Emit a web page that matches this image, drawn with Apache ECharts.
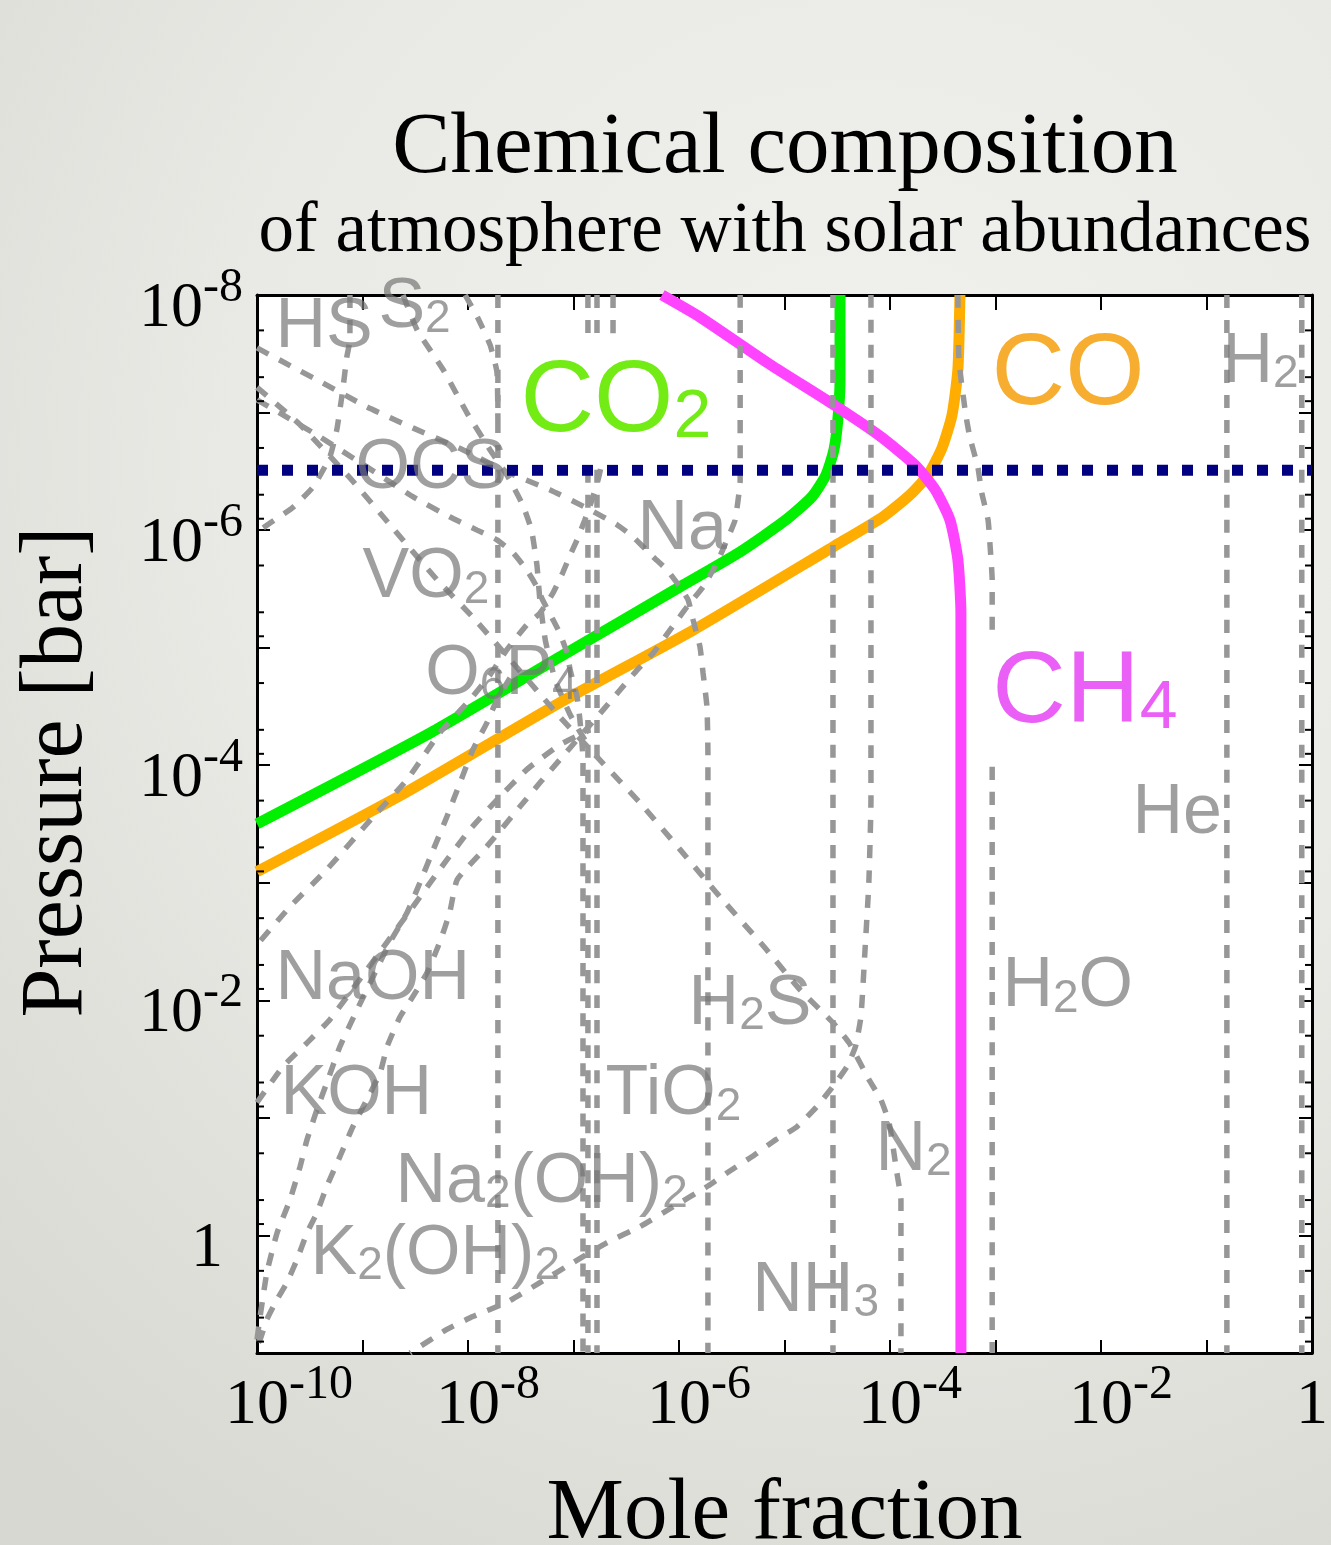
<!DOCTYPE html>
<html>
<head>
<meta charset="utf-8">
<script src="https://cdn.jsdelivr.net/npm/echarts/dist/echarts.min.js"></script>
<style>
html,body{margin:0;padding:0;}
#chart{width:1331px;height:1545px;background:radial-gradient(ellipse 95% 85% at 65% 30%, #f1f1ee 0%, #e9e9e5 50%, #d8d8d2 100%);}
</style>
</head>
<body>
<div id="chart"></div>
<script>
// ---------- tick labels ----------
const xLabelValues = [1e-10, 1e-8, 1e-6, 1e-4, 1e-2, 1];
const xLabelBase   = ['10', '10', '10', '10', '10', '1'];
const xLabelExp    = ['-10', '-8', '-6', '-4', '-2', ''];
const yLabelValues = [1e-8, 1e-6, 1e-4, 1e-2, 1];
const yLabelBase   = ['10', '10', '10', '10', '1'];
const yLabelExp    = ['-8', '-6', '-4', '-2', ''];
const yMinorTicks  = [2e-8,5e-8,8e-8, 2e-7,5e-7,8e-7, 2e-6,5e-6,8e-6, 2e-5,5e-5,8e-5,
                      2e-4,5e-4,8e-4, 2e-3,5e-3,8e-3, 2e-2,5e-2,8e-2, 2e-1,5e-1,8e-1, 2,5,8];

// ---------- highlighted species (mole fraction, pressure) ----------
const co2Line = [[1e-10,3.15e-4],[4.4e-9,5.3e-5],[7.4e-8,1.20e-5],[1.02e-6,3.04e-6],[3.8e-6,1.53e-6],
  [1.03e-5,8.2e-7],[1.82e-5,5.2e-7],[2.47e-5,3.4e-7],[2.94e-5,2.08e-7],[3.2e-5,1.16e-7],[3.36e-5,5.3e-8],[3.36e-5,1e-8]];
const coLine = [[1e-10,8.05e-4],[2.26e-9,1.82e-4],[7.4e-8,2.94e-5],[1.36e-6,7.1e-6],[2.88e-5,1.39e-6],
  [8.6e-5,7.7e-7],[1.55e-4,5.0e-7],[2.29e-4,3.4e-7],[3.11e-4,2.0e-7],[3.87e-4,1.05e-7],[4.4e-4,4.3e-8],[4.6e-4,1e-8]];
const ch4Line = [[6.9e-7,1e-8],[1.58e-6,1.54e-8],[7.3e-6,3.9e-8],[2.88e-5,8.5e-8],[8.0e-5,1.58e-7],
  [1.73e-4,2.8e-7],[2.67e-4,4.5e-7],[3.7e-4,8.2e-7],[4.4e-4,1.79e-6],[4.7e-4,5.1e-6],[4.7e-4,2.8e-5],[4.7e-4,10]];
const tropopausePressure = 3.1e-7;

// ---------- other species (dashed grey) ----------
const dashV1 = [[1.92e-8,1e-8],[1.92e-8,10]];
const dashTop = [[9.4e-9,1e-8],[1.24e-8,1.57e-8],[1.62e-8,2.66e-8],[1.88e-8,4.5e-8],[1.92e-8,1.16e-7]];
const dashTiO2a = [[1.37e-7,1e-8],[1.37e-7,10]];
const dashTiO2b = [[1.67e-7,1e-8],[1.67e-7,10]];
const dashOCS = [[1e-10,7.8e-8],[1.65e-10,1.01e-7],[3.95e-10,1.61e-7],[1.10e-9,2.90e-7],[3.0e-9,5.2e-7],
  [6.7e-9,7.7e-7],[1.22e-8,1.0e-6],[1.88e-8,1.21e-6],[2.67e-8,1.56e-6],[3.6e-8,2.18e-6],[4.5e-8,3.04e-6],
  [5.1e-8,3.93e-6],[6.4e-8,5.8e-6],[7.4e-8,7.5e-6],[8.7e-8,1.11e-5],[9.3e-8,1.55e-5],[1.08e-7,2.62e-5],
  [1.15e-7,4.1e-5],[1.23e-7,9.0e-5],[1.23e-7,10]];
const dashNaOH = [[2.37e-7,1e-8],[2.37e-7,2.41e-8],[2.17e-7,1.16e-7],[1.91e-7,2.39e-7],[1.71e-7,3.74e-7],
  [1.50e-7,5.5e-7],[1.28e-7,8.2e-7],[1.08e-7,1.21e-6],[9.3e-8,1.63e-6],[7.9e-8,2.31e-6],[6.4e-8,3.42e-6],
  [4.8e-8,5.1e-6],[3.6e-8,6.4e-6],[2.34e-8,1.04e-5],[1.62e-8,1.70e-5],[1.04e-8,2.78e-5],[5.4e-9,5.3e-5],
  [2.64e-9,1.33e-4],[1.26e-9,2.75e-4],[4.6e-10,7.7e-4],[2.05e-10,1.60e-3],[1e-10,3.37e-3]];
const dashNa = [[1e-10,2.82e-8],[1.76e-10,3.7e-8],[4.2e-10,5.6e-8],[1.10e-9,8.95e-8],[3.0e-9,1.35e-7],
  [9.0e-9,2.08e-7],[2.34e-8,3.2e-7],[6.0e-8,4.55e-7],[1.43e-7,6.7e-7],[2.58e-7,9.0e-7],[3.66e-7,1.14e-6],
  [5.7e-7,1.69e-6],[7.7e-7,2.18e-6],[1.02e-6,3.04e-6],[1.22e-6,3.93e-6],[1.36e-6,5.8e-6],[1.58e-6,9.8e-6],
  [1.69e-6,1.64e-5],[1.84e-6,3.18e-5],[1.88e-6,7.9e-5],[1.88e-6,10]];
const dashVO2 = [[3.8e-6,1e-8],[3.8e-6,3.74e-7],[3.4e-6,8.2e-7],[2.85e-6,1.21e-6],[2.29e-6,1.90e-6],
  [1.69e-6,3.04e-6],[1.19e-6,4.5e-6],[8.2e-7,7.1e-6],[5.7e-7,1.11e-5],[4.0e-7,1.55e-5],[2.76e-7,2.29e-5],
  [1.91e-7,3.38e-5],[1.15e-7,5.7e-5],[7.4e-8,9.0e-5],[4.8e-8,1.41e-4],[3.1e-8,2.26e-4],[1.51e-8,4.9e-4],
  [7.9e-9,9.4e-4],[6.7e-9,1.80e-3],[5.4e-9,3.2e-3],[4.1e-9,5.8e-3],[3.0e-9,9.3e-3],[2.27e-9,1.38e-2],
  [1.71e-9,2.48e-2],[1.47e-9,4.13e-2],[1.10e-9,7.0e-2],[8.1e-10,0.119],[6.1e-10,0.214],[4.6e-10,0.38],
  [3.7e-10,0.64],[2.98e-10,0.95],[2.39e-10,1.61],[1.92e-10,2.52],[1.55e-10,3.5],[1.24e-10,5.2],
  [1.07e-10,7.7],[1e-10,8.5]];
const dashV2 = [[2.88e-5,1e-8],[2.88e-5,10]];
const dashNH3 = [[6.6e-5,1e-8],[6.6e-5,1.97e-4],[6.3e-5,1.0e-3],[5.8e-5,3.7e-3],[5.3e-5,1.38e-2],
  [4.7e-5,2.48e-2],[3.9e-5,3.67e-2],[2.88e-5,5.4e-2],[2.03e-5,8.0e-2],[1.31e-5,0.119],[8.3e-6,0.153],
  [4.9e-6,0.214],[2.91e-6,0.29],[1.88e-6,0.38],[8.8e-7,0.57],[4.27e-7,0.84],[2.08e-7,1.15],[9.9e-8,1.70],
  [4.8e-8,2.52],[2.34e-8,3.7],[1.11e-8,4.9],[6.3e-9,6.3],[2.82e-9,10]];
const dashN2 = [[1e-10,6.1e-8],[2.56e-10,1.27e-7],[7.6e-10,3.6e-7],[1.82e-9,9.0e-7],[5.1e-9,2.65e-6],
  [1.11e-8,5.5e-6],[2.67e-8,1.35e-5],[7.4e-8,3.87e-5],[1.67e-7,8.5e-5],[4.27e-7,2.09e-4],[1.02e-6,5.2e-4],
  [2.45e-6,1.32e-3],[6.4e-6,3.50e-3],[1.40e-5,8.1e-3],[2.88e-5,1.55e-2],[4.1e-5,2.30e-2],[6.3e-5,4.7e-2],
  [8.2e-5,7.0e-2],[9.8e-5,0.110],[1.16e-4,0.29],[1.27e-4,0.50],[1.27e-4,10]];
const dashH2O = [[4.4e-4,1e-8],[4.5e-4,3.57e-8],[5.2e-4,1.01e-7],[5.7e-4,1.61e-7],[6.8e-4,2.90e-7],
  [7.4e-4,4.8e-7],[8.5e-4,8.2e-7],[8.9e-4,1.39e-6],[9.3e-4,2.65e-6],[9.3e-4,10]];
const dashHe = [[0.156,1e-8],[0.156,10]];
const dashH2 = [[0.80,1e-8],[0.80,10]];
const dashHS = [[7.6e-10,1e-8],[7.6e-10,2.41e-8],[7.1e-10,3.37e-8],[6.5e-10,6.4e-8],[5.7e-10,1.41e-7],
  [4.9e-10,2.39e-7],[3.4e-10,4.3e-7],[2.19e-10,6.4e-7],[1.33e-10,8.7e-7],[1e-10,1.04e-6]];
const dashS2 = [[2.42e-9,1e-8],[3.3e-9,1.99e-8],[5.8e-9,4.3e-8],[9.8e-9,1.01e-7],[1.62e-8,2.08e-7],
  [2.34e-8,3.40e-7],[3.3e-8,6.1e-7],[4.0e-8,1.0e-6],[4.5e-8,1.98e-6],[4.8e-8,3.93e-6],[5.4e-8,8.6e-6],
  [6.7e-8,1.88e-5],[9.3e-8,3.72e-5],[1.28e-7,6.1e-5]];
const dashK2OH2 = [[1e-10,7.7],[1.07e-10,4.9],[1.24e-10,2.07],[1.55e-10,0.95],[2.05e-10,0.50],[2.56e-10,0.26],
  [2.98e-10,0.153],[3.7e-10,8.5e-2],[4.6e-10,5.0e-2],[6.1e-10,2.48e-2],[8.9e-10,1.20e-2],[1.26e-9,6.3e-3],
  [1.82e-9,3.2e-3],[2.64e-9,1.80e-3],[3.5e-9,1.0e-3],[4.7e-9,5.2e-4],[6.3e-9,2.75e-4],[8.4e-9,1.41e-4],
  [1.11e-8,7.4e-5],[1.51e-8,4.36e-5],[1.88e-8,2.78e-5],[2.50e-8,1.81e-5]];
const dashKOH = [[1e-10,7.4e-2],[1.76e-10,3.67e-2],[2.98e-10,2.30e-2],[4.9e-10,1.46e-2],[8.9e-10,7.1e-3],
  [1.71e-9,3.2e-3],[3.0e-9,1.60e-3],[5.4e-9,7.7e-4],[1.04e-8,3.54e-4],[1.88e-8,1.97e-4],[3.6e-8,1.09e-4],
  [7.4e-8,6.7e-5],[1.43e-7,5.0e-5]];
const greyCurves = [dashV1, dashTop, dashTiO2a, dashTiO2b, dashOCS, dashNaOH, dashNa, dashVO2, dashV2,
  dashNH3, dashN2, dashH2O, dashHe, dashH2, dashHS, dashS2, dashK2OH2, dashKOH];

// ---------- species labels (anchor in data units) ----------
const greyLabelNames = ['HS','S2','OCS','Na','VO2','O6P4','NaOH','H2S','KOH','TiO2','N2','Na2(OH)2','K2(OH)2','NH3','H2','He','H2O'];
const greyLabelX = [1.48e-10,1.40e-9,8.5e-10,4.0e-7,9.9e-10,3.9e-9,1.48e-10,1.22e-6,1.65e-10,1.99e-7,7.2e-5,2.03e-9,3.18e-10,4.9e-6,0.140,0.0197,1.15e-3];
const greyLabelP = [1.89e-8,1.28e-8,3.0e-7,1.0e-6,2.55e-6,1.70e-5,6.7e-3,1.09e-2,6.4e-2,6.4e-2,0.19,0.356,1.46,3.0,3.75e-8,2.59e-4,7.7e-3];
const mainLabelNames = ['CO2','CO','CH4'];
const mainLabelX = [2.39e-8, 6.98e-4, 7.1e-4];
const mainLabelP = [8.2e-8, 4.9e-8, 2.45e-5];

// ---------- styling ----------
const SERIF = '"Liberation Serif", "DejaVu Serif", serif';
const SANS = '"Liberation Sans", Arial, sans-serif';
const mainColors = ['#72ec14', '#f7ad30', '#ea5ff5'];
const lineColors = ['#00f000', '#ffad00', '#ff44ff'];
const GREY_TXT = 'rgba(118,118,118,0.7)';

function chem(name) {
  return name.split(/(\d+)/).filter(t => t.length).map(t => /^\d+$/.test(t) ? '{s|' + t + '}' : '{m|' + t + '}').join('');
}
function findIdx(vals, v) {
  for (let i = 0; i < vals.length; i++) {
    if (Math.abs(Math.log10(vals[i]) - Math.log10(v)) < 1e-6) return i;
  }
  return -1;
}

const series = [];
[co2Line, coLine, ch4Line].forEach((d, i) => {
  series.push({ type: 'line', data: d, symbol: 'none', smooth: 0.2, z: 2, silent: true,
    lineStyle: { color: lineColors[i], width: 11, cap: 'butt', opacity: 1 } });
});
greyCurves.forEach(d => {
  series.push({ type: 'line', data: d, symbol: 'none', smooth: 0.15, z: 3, silent: true,
    lineStyle: { color: '#979797', width: 5.5, type: [13, 12], cap: 'butt', opacity: 1 } });
});
series.push({ type: 'line', data: [[1e-10, tropopausePressure], [1, tropopausePressure]], symbol: 'none', z: 4, silent: true,
  lineStyle: { color: '#000080', width: 11, type: [11, 14], cap: 'butt', opacity: 1 } });
series.push({
  type: 'custom', z: 6, silent: true, clip: false,
  data: yMinorTicks.map(v => [1e-10, v]),
  renderItem: function (params, api) {
    const p = api.value(1);
    const l = api.coord([1e-10, p]);
    const r = api.coord([1, p]);
    return { type: 'group', children: [
      { type: 'line', shape: { x1: l[0], y1: l[1], x2: l[0] + 7, y2: l[1] }, style: { stroke: '#000', lineWidth: 2 } },
      { type: 'line', shape: { x1: r[0], y1: r[1], x2: r[0] - 7, y2: r[1] }, style: { stroke: '#000', lineWidth: 2 } }
    ] };
  }
});
series.push({
  type: 'scatter', z: 10, silent: true, symbolSize: 1, itemStyle: { color: 'rgba(0,0,0,0)', opacity: 1 },
  data: greyLabelNames.map((n, i) => ({
    value: [greyLabelX[i], greyLabelP[i]],
    label: { show: true, position: 'right', distance: 0, formatter: chem(n), opacity: 1, textBorderWidth: 0,
      rich: {
        m: { fontFamily: SANS, fontSize: 70, lineHeight: 70, color: GREY_TXT, textBorderWidth: 0 },
        s: { fontFamily: SANS, fontSize: 46, lineHeight: 53, verticalAlign: 'bottom', color: GREY_TXT, textBorderWidth: 0 }
      } }
  }))
});
series.push({
  type: 'scatter', z: 11, silent: true, symbolSize: 1, itemStyle: { color: 'rgba(0,0,0,0)', opacity: 1 },
  data: mainLabelNames.map((n, i) => ({
    value: [mainLabelX[i], mainLabelP[i]],
    label: { show: true, position: 'right', distance: 0, formatter: chem(n), opacity: 1, textBorderWidth: 0,
      backgroundColor: '#ffffff', padding: [12, 12, 12, 12],
      rich: {
        m: { fontFamily: SANS, fontSize: 102, lineHeight: 100, color: mainColors[i], textBorderWidth: 0 },
        s: { fontFamily: SANS, fontSize: 68, lineHeight: 76, verticalAlign: 'bottom', color: mainColors[i], textBorderWidth: 0 }
      } }
  }))
});

const tickLine = { show: true, inside: true, length: 13, lineStyle: { color: '#000', width: 2 } };
const axisLineStyle = { show: true, onZero: false, lineStyle: { color: '#000', width: 3 } };
const supStyle = { fontFamily: SERIF, fontSize: 48, lineHeight: 20, verticalAlign: 'bottom', padding: [0, 0, 29, 0], color: '#000' };

const option = {
  animation: false,
  backgroundColor: 'transparent',
  grid: { left: 257, top: 295, right: 19, bottom: 192, show: true, backgroundColor: '#fff', borderWidth: 0, outerBoundsMode: 'none', containLabel: false },
  graphic: [
    { type: 'text', x: 785, y: 149, z: 20, style: { text: 'Chemical composition', fontFamily: SERIF, fontSize: 87, fill: '#000', align: 'center', verticalAlign: 'middle' } },
    { type: 'text', x: 785, y: 232, z: 20, style: { text: 'of atmosphere with solar abundances', fontFamily: SERIF, fontSize: 71, fill: '#000', align: 'center', verticalAlign: 'middle' } }
  ],
  xAxis: [
    { type: 'log', logBase: 10, min: 1e-10, max: 1, interval: 1, splitNumber: 10, position: 'bottom',
      axisLine: axisLineStyle, axisTick: tickLine, splitLine: { show: false }, minorTick: { show: false },
      axisLabel: { margin: 21, color: '#000', hideOverlap: false, showMinLabel: true, showMaxLabel: true,
        formatter: function (v) {
          const i = findIdx(xLabelValues, v);
          if (i < 0) return '';
          if (!xLabelExp[i]) return '{b|' + xLabelBase[i] + '}';
          return '{p|' + xLabelExp[i] + '}{b|' + xLabelBase[i] + '}{s|' + xLabelExp[i] + '}';
        },
        rich: {
          b: { fontFamily: SERIF, fontSize: 64, lineHeight: 64, color: '#000' },
          s: supStyle,
          p: Object.assign({}, supStyle, { color: 'rgba(0,0,0,0)' })
        } },
      name: 'Mole fraction', nameLocation: 'middle', nameGap: 119, nameMoveOverlap: false,
      nameTextStyle: { fontFamily: SERIF, fontSize: 87, color: '#000' } },
    { type: 'log', logBase: 10, min: 1e-10, max: 1, interval: 1, splitNumber: 10, position: 'top',
      axisLine: axisLineStyle, axisTick: { show: true, inside: true, length: 15, lineStyle: { color: '#000', width: 2 } },
      axisLabel: { show: false }, splitLine: { show: false } }
  ],
  yAxis: [
    { type: 'log', logBase: 10, min: 1e-8, max: 10, interval: 1, inverse: true, splitNumber: 9, position: 'left',
      axisLine: axisLineStyle, axisTick: tickLine, splitLine: { show: false },
      axisLabel: { margin: 14, color: '#000', padding: [28, 0, 0, 0], hideOverlap: false,
        formatter: function (v) {
          const i = findIdx(yLabelValues, v);
          if (i < 0) return '';
          if (!yLabelExp[i]) return '{b|' + yLabelBase[i] + '}{q|\u00a0}';
          return '{b|' + yLabelBase[i] + '}{t|' + yLabelExp[i] + '}';
        },
        rich: {
          b: { fontFamily: SERIF, fontSize: 64, lineHeight: 64, color: '#000' },
          t: supStyle,
          q: { fontFamily: SERIF, fontSize: 20, width: 20 }
        } },
      name: 'Pressure [bar]', nameLocation: 'middle', nameGap: 155, nameRotate: 90, nameMoveOverlap: false,
      nameTextStyle: { fontFamily: SERIF, fontSize: 88, color: '#000', padding: [0, 0, 0, 104] } },
    { type: 'log', logBase: 10, min: 1e-8, max: 10, interval: 1, inverse: true, splitNumber: 9, position: 'right',
      axisLine: axisLineStyle, axisTick: tickLine, axisLabel: { show: false }, splitLine: { show: false } }
  ],
  series: series
};

const chart = echarts.init(document.getElementById('chart'), null, { renderer: 'canvas' });
chart.setOption(option);
</script>
</body>
</html>
